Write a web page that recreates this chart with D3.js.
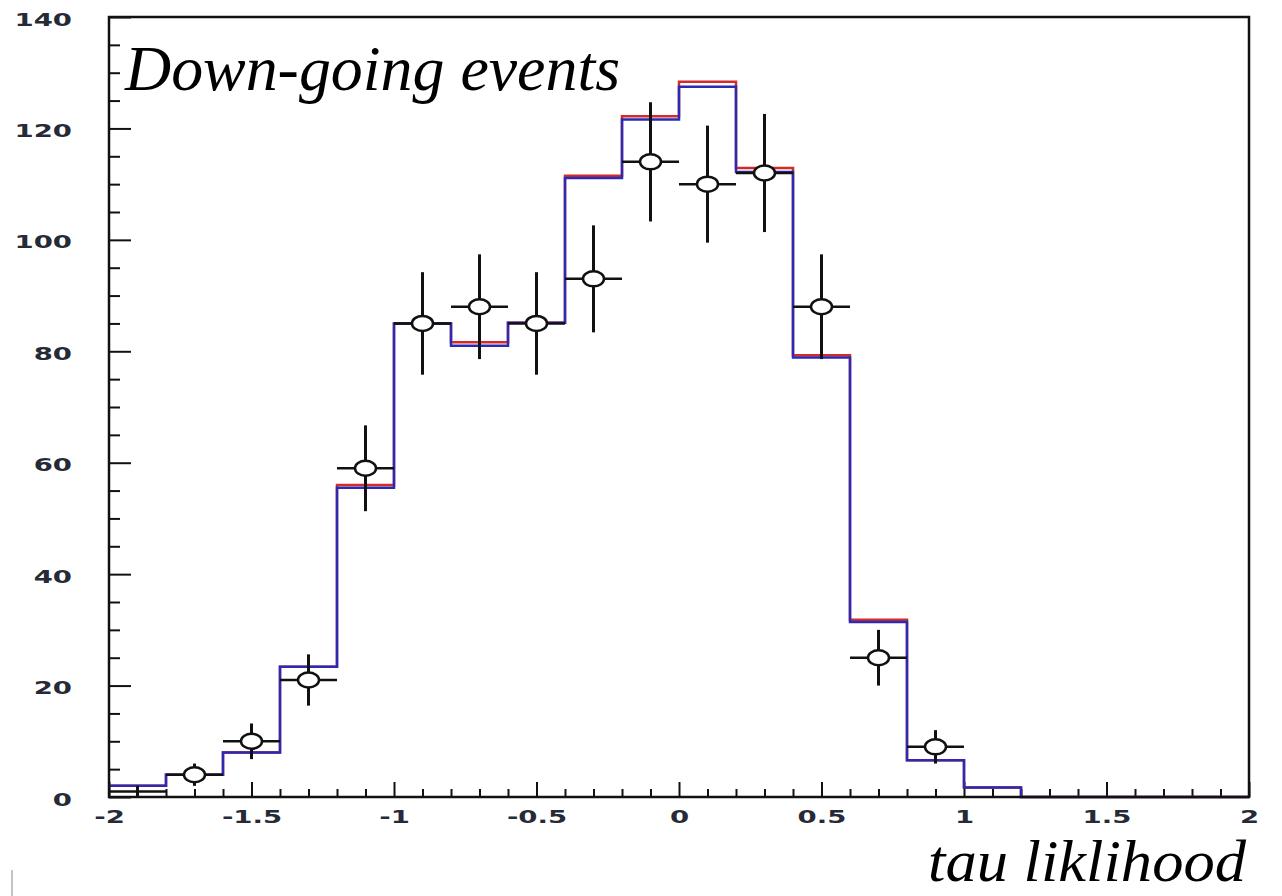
<!DOCTYPE html>
<html>
<head>
<meta charset="utf-8">
<script src="https://cdn.jsdelivr.net/npm/d3@7"></script>
<style>
  html, body { margin: 0; padding: 0; background: #fff; }
  svg { display: block; }
  .tick text { font-family: "DejaVu Sans", Arial, sans-serif; font-weight: bold; font-size: 17px; fill: #262a36; }
  .tick line { stroke: #111; stroke-width: 2; }
  .title { font-family: "Liberation Serif", "Times New Roman", serif; font-style: italic; fill: #000; }
</style>
</head>
<body>
<script>
const width = 1282
const height = 896

// histogram bins (edges) and the two MC histograms
const binEdges = [-2, -1.8, -1.6, -1.4, -1.2, -1, -0.8, -0.6, -0.4, -0.2, 0,
                  0.2, 0.4, 0.6, 0.8, 1, 1.2, 1.4, 1.6, 1.8, 2]
const redCounts = [2, 4, 8, 23.4, 56, 85, 81.6, 85.1, 111.5, 122.2, 128.4,
                   112.9, 79.3, 31.8, 6.6, 1.7, 0, 0, 0, 0]
const blueCounts = [2, 4, 8, 23.4, 55.5, 85, 81, 85.1, 111.1, 121.6, 127.5,
                    112.2, 78.9, 31.4, 6.6, 1.7, 0, 0, 0, 0]

// data points with errors
const dataX = [-1.9, -1.7, -1.5, -1.3, -1.1, -0.9, -0.7, -0.5, -0.3, -0.1,
               0.1, 0.3, 0.5, 0.7, 0.9]
const dataY = [1, 4, 10, 21, 59, 85, 88, 85, 93, 114, 110, 112, 88, 25, 9]
const dataErr = [1, 2, 3.2, 4.6, 7.7, 9.2, 9.4, 9.2, 9.6, 10.7, 10.5, 10.6, 9.4, 5, 3]
const dataHalfWidth = 0.1
const noMarker = [0]   // first point shows only its bar

// axis ticks
const xMajor = [-2, -1.5, -1, -0.5, 0, 0.5, 1, 1.5, 2]
const xLabels = ['-2', '-1.5', '-1', '-0.5', '0', '0.5', '1', '1.5', '2']
const yMajor = [0, 20, 40, 60, 80, 100, 120, 140]
const yLabels = ['0', '20', '40', '60', '80', '100', '120', '140']

const frame = {left: 109, top: 17, right: 1249, bottom: 797}
const labelStretch = 1.62

const svg = d3.select('body').append('svg')
  .attr('width', width)
  .attr('height', height)

const x = d3.scaleLinear().domain([-2, 2]).range([frame.left, frame.right])
const y = d3.scaleLinear().domain([0, 140]).range([frame.bottom, frame.top])

// Axes: major + minor ticks pointing inward
const xMinor = d3.range(-20, 21).map(i => i / 10).filter(v => !xMajor.some(m => Math.abs(m - v) < 1e-9))
const yMinor = d3.range(0, 141, 5).filter(v => v % 20 !== 0)

svg.append('g')
  .attr('transform', `translate(0,${frame.bottom})`)
  .call(d3.axisBottom(x).tickValues(xMinor).tickSize(-8).tickFormat(''))
  .call(g => g.select('.domain').remove())

svg.append('g')
  .attr('transform', `translate(0,${frame.bottom})`)
  .call(d3.axisBottom(x).tickValues(xMajor).tickSize(-15)
    .tickFormat((d, i) => xLabels[i]))
  .call(g => g.select('.domain').remove())
  .call(g => g.selectAll('.tick text')
    .attr('y', 26).attr('dy', null)
    .attr('transform', `scale(${labelStretch},1)`))

svg.append('g')
  .attr('transform', `translate(${frame.left},0)`)
  .call(d3.axisLeft(y).tickValues(yMinor).tickSize(-11).tickFormat(''))
  .call(g => g.select('.domain').remove())

svg.append('g')
  .attr('transform', `translate(${frame.left},0)`)
  .call(d3.axisLeft(y).tickValues(yMajor).tickSize(-22)
    .tickFormat((d, i) => yLabels[i]))
  .call(g => g.select('.domain').remove())
  .call(g => g.selectAll('.tick text')
    .attr('x', -37 / labelStretch).attr('dy', null).attr('y', 8)
    .attr('transform', `scale(${labelStretch},1)`))

// Histogram outlines
const step = d3.line()
  .x(d => x(d[0]))
  .y(d => y(d[1]))
  .curve(d3.curveStepAfter)

function histPoints(counts) {
  const pts = counts.map((c, i) => [binEdges[i], c])
  pts.push([binEdges[binEdges.length - 1], counts[counts.length - 1]])
  return pts
}

svg.append('path')
  .attr('d', step(histPoints(redCounts)))
  .attr('fill', 'none')
  .attr('stroke', '#d42a2a')
  .attr('stroke-width', 2.5)

svg.append('path')
  .attr('d', step(histPoints(blueCounts)))
  .attr('fill', 'none')
  .attr('stroke', '#2a2ab4')
  .attr('stroke-width', 2.5)

// Data points
const points = svg.append('g').classed('points', true)
  .selectAll('g')
  .data(dataX.map((d, i) => ({x: d, y: dataY[i], err: dataErr[i], i})))
  .enter().append('g')

points.append('line')
  .attr('x1', d => x(d.x - dataHalfWidth))
  .attr('x2', d => x(d.x + dataHalfWidth))
  .attr('y1', d => y(d.y))
  .attr('y2', d => y(d.y))
  .attr('stroke', '#111')
  .attr('stroke-width', 2.5)

points.append('line')
  .attr('x1', d => x(d.x))
  .attr('x2', d => x(d.x))
  .attr('y1', d => y(d.y - d.err))
  .attr('y2', d => y(d.y + d.err))
  .attr('stroke', '#111')
  .attr('stroke-width', 3)

points.filter(d => !noMarker.includes(d.i)).append('ellipse')
  .attr('cx', d => x(d.x))
  .attr('cy', d => y(d.y))
  .attr('rx', 10.5)
  .attr('ry', 7.5)
  .attr('fill', '#fff')
  .attr('stroke', '#111')
  .attr('stroke-width', 2.5)

// Frame
svg.append('rect')
  .attr('x', frame.left)
  .attr('y', frame.top)
  .attr('width', frame.right - frame.left)
  .attr('height', frame.bottom - frame.top)
  .attr('fill', 'none')
  .attr('stroke', '#111')
  .attr('stroke-width', 2.5)

// Titles
svg.append('text').classed('title', true)
  .attr('x', 125).attr('y', 90)
  .attr('font-size', 63)
  .attr('textLength', 495).attr('lengthAdjust', 'spacingAndGlyphs')
  .text('Down-going events')

svg.append('text').classed('title', true)
  .attr('x', 928).attr('y', 881)
  .attr('font-size', 60)
  .attr('textLength', 318).attr('lengthAdjust', 'spacingAndGlyphs')
  .text('tau liklihood')

// stray mark at the bottom left
svg.append('line')
  .attr('x1', 12).attr('x2', 12)
  .attr('y1', 870).attr('y2', 896)
  .attr('stroke', '#888').attr('stroke-width', 1)
</script>
</body>
</html>
